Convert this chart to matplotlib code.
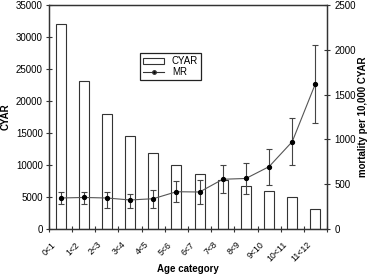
import matplotlib
matplotlib.use("Agg")
import matplotlib.pyplot as plt
import matplotlib.transforms as mtransforms
from matplotlib.patches import Patch
from matplotlib.lines import Line2D
import numpy as np

plt.rcParams['font.family'] = ['Liberation Sans', 'DejaVu Sans']

categories = ["0<1", "1<2", "2<3", "3<4", "4<5", "5<6", "6<7", "7<8", "8<9", "9<10", "10<11", "11<12"]
cyar = [32100, 23200, 17900, 14500, 11800, 10000, 8600, 7700, 6700, 5900, 5000, 3100]
mr = [346, 352, 346, 324, 338, 416, 413, 555, 564, 696, 975, 1622]
mr_upper = [410, 412, 413, 394, 439, 536, 543, 714, 740, 893, 1235, 2058]
mr_lower = [279, 279, 231, 234, 238, 305, 275, 398, 391, 488, 709, 1186]

fig = plt.figure(figsize=(3.70, 2.77), dpi=100)
ax = fig.add_axes([49/370, 1-229/277, (327-49)/370, (229-5)/277])
x = np.arange(len(categories))

ax.bar(x, cyar, width=0.43, color='white', edgecolor='#333333', linewidth=0.8, zorder=2)
ax.set_xlim(-0.5, len(categories)-0.5)
ax.set_ylim(0, 35000)
ax.set_yticks(np.arange(0, 35001, 5000))
ax.tick_params(axis='y', direction='inout', length=5, width=0.8, labelsize=7, pad=2, color='#333333')

ax.set_xticks(np.arange(-0.5, len(categories)), [''] * (len(categories)+1))
ax.tick_params(axis='x', which='major', direction='inout', length=5, width=0.8, color='#333333')
ax.set_xticks(x, minor=True)
ax.set_xticklabels(categories, minor=True, rotation=45, ha='right', fontsize=6.3)
ax.tick_params(axis='x', which='minor', length=0, pad=8)
offset = mtransforms.ScaledTranslation(-3/100, 0, fig.dpi_scale_trans)
for lbl in ax.get_xticklabels(minor=True):
    lbl.set_transform(lbl.get_transform() + offset)

for s in ax.spines.values():
    s.set_linewidth(0.9)
    s.set_color('#333333')

ax.set_ylabel("CYAR", fontsize=7, fontweight='bold', labelpad=4)
ax.set_xlabel("Age category", fontsize=7, fontweight='bold', labelpad=0)

ax2 = ax.twinx()
mr_arr = np.array(mr)
yerr = np.array([mr_arr - np.array(mr_lower), np.array(mr_upper) - mr_arr])
ax2.errorbar(x, mr, yerr=yerr, fmt='none', ecolor='#444444', elinewidth=0.8, capsize=2, capthick=0.8, zorder=3)
ax2.plot(x, mr, color='#555555', linewidth=0.8, marker='o', markersize=2.8,
         markerfacecolor='black', markeredgecolor='black', zorder=4)
ax2.set_ylim(0, 2500)
ax2.set_yticks(np.arange(0, 2501, 500))
ax2.tick_params(axis='y', direction='inout', length=5, width=0.8, labelsize=7, pad=3, color='#333333')
ax2.set_ylabel("mortality per 10,000 CYAR", fontsize=7, fontweight='bold', labelpad=1)
for s in ax2.spines.values():
    s.set_linewidth(0.9)
    s.set_color('#333333')

handles = [Patch(facecolor='white', edgecolor='#333333', linewidth=0.8),
           Line2D([0], [0], color='#333333', linewidth=0.8, marker='o', markersize=2.5,
                  markerfacecolor='black')]
leg = ax2.legend(handles, ["CYAR", "MR"], loc='upper left', bbox_to_anchor=(0.327, 0.784),
                 fontsize=7, frameon=True, fancybox=False, edgecolor='#222222', framealpha=1,
                 borderpad=0.3, labelspacing=0.12, handlelength=2.2, handleheight=0.55,
                 handletextpad=0.8, borderaxespad=0)
leg.get_frame().set_linewidth(0.9)

fig.savefig("out.png", dpi=100)
